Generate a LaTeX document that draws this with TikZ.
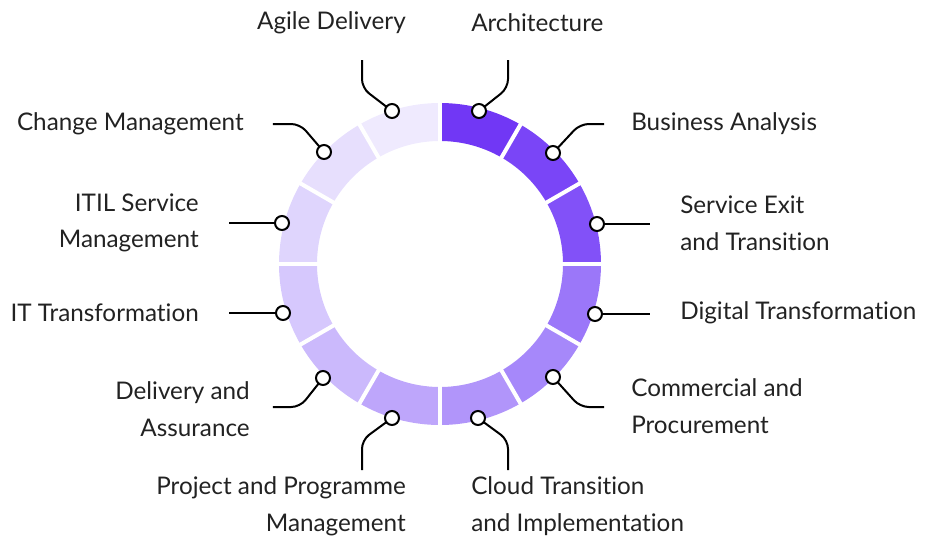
\documentclass[tikz,border=0pt]{standalone}
\usepackage{fontspec}
\setmainfont{Lato}[Ligatures=NoCommon]

\definecolor{ink}{HTML}{222222}
% ring colours, dark to light, clockwise from the top
\definecolor{seg1}{HTML}{7137F5}
\definecolor{seg2}{HTML}{7A45F7}
\definecolor{seg3}{HTML}{8251F8}
\definecolor{seg4}{HTML}{9B77F9}
\definecolor{seg5}{HTML}{A688FA}
\definecolor{seg6}{HTML}{B195FA}
\definecolor{seg7}{HTML}{BEA6FB}
\definecolor{seg8}{HTML}{CBB9FC}
\definecolor{seg9}{HTML}{D6C8FD}
\definecolor{seg10}{HTML}{DFD5FD}
\definecolor{seg11}{HTML}{E7DFFD}
\definecolor{seg12}{HTML}{EFEAFE}

\tikzset{
  dot/.style={circle, draw=black, fill=white, line width=1.5pt, minimum size=10.5pt, inner sep=0pt},
  link/.style={draw=black, line width=1.5pt, rounded corners=6.5pt},
  tag/.style={font=\fontsize{18.2}{27.5}\selectfont, text=ink, inner sep=0pt},
}

\begin{document}
\begin{tikzpicture}[x=0.75pt, y=0.75pt]
  \useasboundingbox (-440,-276) rectangle (490,264);

  % ring
  \foreach \c [count=\i from 0] in {seg1,seg2,seg3,seg4,seg5,seg6,seg7,seg8,seg9,seg10,seg11,seg12} {
    \fill[\c] (90-30*\i:161) arc[start angle=90-30*\i, end angle=60-30*\i, radius=161]
      -- (60-30*\i:123) arc[start angle=60-30*\i, end angle=90-30*\i, radius=123] -- cycle;
  }
  \foreach \a in {0,30,...,330}
    \draw[white, line width=3pt] (\a:118) -- (\a:166);

  % labels
  \node[tag, anchor=west] (arch) at (31,241) {Architecture};
  \node[tag, anchor=west] (ba) at (191,140) {Business Analysis};
  \node[tag, anchor=west, align=left] (exit) at (240,41) {Service Exit\\and Transition};
  \node[tag, anchor=west] (digi) at (240,-49) {Digital Transformation};
  \node[tag, anchor=west, align=left] (comm) at (191,-142) {Commercial and\\Procurement};
  \node[tag, anchor=west, align=left] (cloud) at (31,-242) {Cloud Transition\\and Implementation};
  \node[tag, anchor=east, align=right] (proj) at (-34,-242) {Project and Programme\\Management};
  \node[tag, anchor=east, align=right] (deliv) at (-190,-145) {Delivery and\\Assurance};
  \node[tag, anchor=east] (itt) at (-241,-49) {IT Transformation};
  \node[tag, anchor=east, align=right] (itil) at (-241,41) {ITIL Service\\Management};
  \node[tag, anchor=east] (chg) at (-196,140) {Change Management};
  \node[tag, anchor=east] (agile) at (-34,241) {Agile Delivery};

  % connector bends and ends
  \coordinate (arch-c) at (68,176);   \coordinate (arch-e) at (68,204);
  \coordinate (ba-c) at (140,140);    \coordinate (ba-e) at (164,140);
  \coordinate (exit-e) at (210,40);
  \coordinate (digi-e) at (210,-50);
  \coordinate (comm-c) at (140,-143); \coordinate (comm-e) at (164,-143);
  \coordinate (cloud-c) at (68,-176); \coordinate (cloud-e) at (68,-206);
  \coordinate (proj-c) at (-78,-176); \coordinate (proj-e) at (-78,-206);
  \coordinate (deliv-c) at (-140,-143); \coordinate (deliv-e) at (-167,-143);
  \coordinate (itt-e) at (-211,-49);
  \coordinate (itil-e) at (-211,41);
  \coordinate (chg-c) at (-140,140);  \coordinate (chg-e) at (-167,140);
  \coordinate (agile-c) at (-78,176); \coordinate (agile-e) at (-78,204);

  \draw[link] (39,153) -- (arch-c) -- (arch-e);
  \draw[link] (113,111) -- (ba-c) -- (ba-e);
  \draw[link] (157,40) -- (exit-e);
  \draw[link] (155,-50) -- (digi-e);
  \draw[link] (113,-113) -- (comm-c) -- (comm-e);
  \draw[link] (38,-154) -- (cloud-c) -- (cloud-e);
  \draw[link] (-48,-154) -- (proj-c) -- (proj-e);
  \draw[link] (-117,-114) -- (deliv-c) -- (deliv-e);
  \draw[link] (-157,-49) -- (itt-e);
  \draw[link] (-158,41) -- (itil-e);
  \draw[link] (-116,112) -- (chg-c) -- (chg-e);
  \draw[link] (-48,153) -- (agile-c) -- (agile-e);

  % markers on the ring
  \node[dot] (arch-m) at (39,153) {};
  \node[dot] (ba-m) at (113,111) {};
  \node[dot] (exit-m) at (157,40) {};
  \node[dot] (digi-m) at (155,-50) {};
  \node[dot] (comm-m) at (113,-113) {};
  \node[dot] (cloud-m) at (38,-154) {};
  \node[dot] (proj-m) at (-48,-154) {};
  \node[dot] (deliv-m) at (-117,-114) {};
  \node[dot] (itt-m) at (-157,-49) {};
  \node[dot] (itil-m) at (-158,41) {};
  \node[dot] (chg-m) at (-116,112) {};
  \node[dot] (agile-m) at (-48,153) {};
\end{tikzpicture}
\end{document}
